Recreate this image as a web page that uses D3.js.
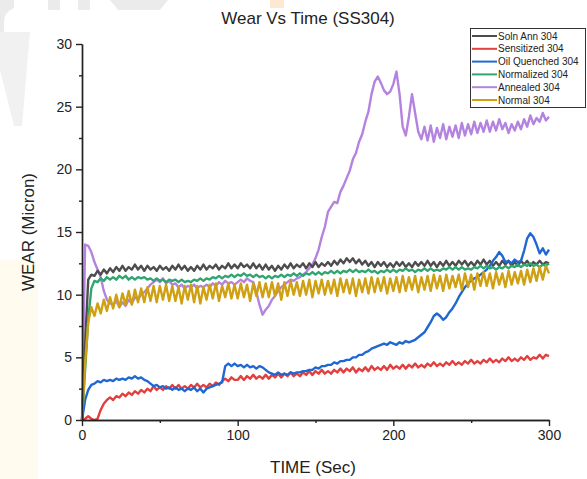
<!DOCTYPE html>
<html>
<head>
<meta charset="utf-8">
<script src="https://cdn.jsdelivr.net/npm/d3@7"></script>
<style>
  body { margin: 0; background: #fff; }
  svg { display: block; font-family: "Liberation Sans", Arial, sans-serif; }
</style>
</head>
<body>
<svg id="chart" width="587" height="479"></svg>
<script>
// Sample times (sec), one reading every 2 s
const time = d3.range(0, 301, 2);

// Wear readings (micron)
const solnAnn = [
  0, 6.0, 11.2, 11.6, 11.5, 11.9, 11.6, 12.0, 11.7, 12.1,
  11.8, 12.2, 11.9, 12.3, 11.9, 12.2, 12.0, 12.4, 12.0, 12.3,
  11.9, 12.3, 12.0, 12.2, 11.9, 12.3, 12.0, 12.2, 11.9, 12.3,
  12.0, 12.4, 12.0, 12.3, 11.9, 12.2, 11.9, 12.3, 12.0, 12.4,
  12.0, 12.3, 12.1, 12.4, 12.0, 12.3, 12.1, 12.5, 12.1, 12.4,
  12.1, 12.5, 12.2, 12.4, 12.1, 12.5, 12.1, 12.4, 12.0, 12.4,
  12.0, 12.3, 11.9, 12.3, 12.0, 12.4, 12.1, 12.5, 12.1, 12.4,
  12.2, 12.5, 12.1, 12.5, 12.2, 12.6, 12.2, 12.5, 12.3, 12.6,
  12.3, 12.7, 12.4, 12.8, 12.5, 12.9, 12.6, 12.9, 12.5, 12.8,
  12.4, 12.7, 12.3, 12.6, 12.2, 12.6, 12.3, 12.6, 12.2, 12.5,
  12.2, 12.6, 12.3, 12.6, 12.2, 12.5, 12.2, 12.6, 12.3, 12.6,
  12.3, 12.7, 12.3, 12.6, 12.2, 12.6, 12.3, 12.7, 12.3, 12.6,
  12.3, 12.7, 12.4, 12.7, 12.3, 12.6, 12.3, 12.7, 12.4, 12.8,
  12.4, 12.7, 12.3, 12.6, 12.3, 12.7, 12.4, 12.7, 12.3, 12.6,
  12.3, 12.7, 12.4, 12.7, 12.3, 12.6, 12.4, 12.7, 12.4, 12.6,
  12.5
];

const sensitized = [
  0, 0.1, 0.3, 0.1, 0.0, 0.1, 0.8, 1.3, 1.6, 1.8,
  1.6, 1.9, 1.8, 2.1, 1.9, 2.2, 2.0, 2.3, 2.1, 2.4,
  2.2, 2.5, 2.3, 2.7, 2.4, 2.6, 2.4, 2.7, 2.5, 2.8,
  2.5, 2.8, 2.5, 2.7, 2.5, 2.8, 2.6, 2.9, 2.6, 2.8,
  2.6, 2.9, 2.7, 3.0, 2.8, 3.1, 3.3, 3.1, 3.4, 3.2,
  3.2, 3.5, 3.2, 3.5, 3.3, 3.6, 3.3, 3.5, 3.3, 3.6,
  3.3, 3.6, 3.4, 3.7, 3.4, 3.7, 3.5, 3.8, 3.5, 3.7,
  3.5, 3.8, 3.6, 3.9, 3.6, 3.9, 3.7, 4.0, 3.7, 3.9,
  3.7, 4.0, 3.8, 4.1, 3.8, 4.1, 3.9, 4.2, 3.8, 4.1,
  3.9, 4.2, 3.9, 4.3, 4.0, 4.2, 4.0, 4.3, 4.0, 4.4,
  4.1, 4.3, 4.1, 4.4, 4.1, 4.4, 4.2, 4.5, 4.2, 4.4,
  4.2, 4.5, 4.3, 4.6, 4.3, 4.5, 4.3, 4.6, 4.4, 4.7,
  4.4, 4.6, 4.4, 4.7, 4.5, 4.8, 4.5, 4.7, 4.5, 4.8,
  4.6, 4.9, 4.6, 4.8, 4.6, 4.9, 4.7, 5.0, 4.7, 4.9,
  4.7, 5.0, 4.8, 5.1, 4.8, 5.0, 4.9, 5.2, 4.9, 5.2,
  5.1
];

const oilQuenched = [
  0, 1.6, 2.4, 2.8, 2.9, 3.1, 3.0, 3.2, 3.1, 3.2,
  3.1, 3.3, 3.2, 3.3, 3.2, 3.4, 3.3, 3.5, 3.3, 3.4,
  3.2, 3.1, 2.9, 2.7, 2.8, 2.6, 2.7, 2.5, 2.6, 2.4,
  2.6, 2.4, 2.5, 2.3, 2.5, 2.4, 2.6, 2.3, 2.5, 2.2,
  2.5, 2.6, 2.7, 2.8, 2.9, 3.0, 4.3, 4.5, 4.3, 4.5,
  4.3, 4.4, 4.2, 4.4, 4.2, 4.3, 4.1, 4.3, 4.2, 4.0,
  3.8, 3.7, 3.6, 3.8, 3.6, 3.7, 3.6, 3.8, 3.7, 3.8,
  3.8, 3.9, 3.9, 4.0, 4.0, 4.2, 4.1, 4.3, 4.3, 4.4,
  4.4, 4.6, 4.5, 4.7, 4.7, 4.8, 4.8, 5.0, 5.0, 5.2,
  5.2, 5.4, 5.5, 5.7, 5.8, 5.9, 6.0, 6.1, 6.0, 6.2,
  6.1, 6.0, 6.2, 6.1, 6.3, 6.2, 6.3, 6.4, 6.6, 6.8,
  7.0, 7.4, 7.8, 8.3, 8.5, 8.3, 8.0, 8.2, 8.6, 8.9,
  9.3, 9.8, 10.2, 10.6, 10.9, 11.1, 11.3, 11.4, 11.6, 11.8,
  12.0, 12.3, 12.7, 13.0, 13.4, 13.1, 12.6, 12.7, 12.5, 12.8,
  12.6, 12.7, 13.5, 14.5, 14.9, 14.6, 14.0, 13.3, 13.7, 13.2,
  13.6
];

const normalized = [
  0, 4.0, 8.0, 10.5, 11.1, 11.0, 11.3, 11.1, 11.4, 11.2,
  11.4, 11.2, 11.5, 11.3, 11.5, 11.2, 11.4, 11.2, 11.4, 11.3,
  11.4, 11.2, 11.3, 11.1, 11.3, 11.1, 11.2, 11.0, 11.2, 11.1,
  11.2, 11.0, 11.2, 11.0, 11.1, 11.0, 11.2, 11.1, 11.3, 11.1,
  11.3, 11.2, 11.4, 11.3, 11.5, 11.3, 11.5, 11.4, 11.6, 11.4,
  11.6, 11.5, 11.7, 11.5, 11.6, 11.4, 11.6, 11.4, 11.5, 11.3,
  11.5, 11.3, 11.5, 11.4, 11.6, 11.4, 11.6, 11.5, 11.7, 11.5,
  11.7, 11.5, 11.7, 11.6, 11.8, 11.6, 11.8, 11.6, 11.8, 11.7,
  11.9, 11.7, 11.9, 11.7, 11.9, 11.8, 12.0, 11.8, 12.0, 11.8,
  11.9, 11.8, 12.0, 11.8, 11.9, 11.7, 11.9, 11.8, 12.0, 11.8,
  12.0, 11.8, 12.0, 11.9, 12.1, 11.9, 12.0, 11.8, 12.0, 11.9,
  12.1, 11.9, 12.1, 11.9, 12.0, 11.9, 12.1, 12.0, 12.2, 12.0,
  12.2, 12.0, 12.2, 12.0, 12.1, 12.0, 12.2, 12.1, 12.3, 12.1,
  12.3, 12.1, 12.2, 12.0, 12.2, 12.1, 12.3, 12.1, 12.3, 12.2,
  12.4, 12.2, 12.4, 12.3, 12.5, 12.3, 12.4, 12.2, 12.4, 12.3,
  12.5
];

const annealed = [
  0, 14.0, 13.9, 13.4, 12.6, 12.0, 11.4, 10.3, 9.6, 9.3,
  9.2, 9.5, 9.0, 9.4, 9.1, 9.6, 9.3, 9.8, 9.6, 10.0,
  10.2, 10.5, 10.8, 11.0, 11.2, 11.0, 11.3, 10.9, 11.1, 10.8,
  10.9, 10.6, 10.8, 10.5, 10.7, 10.6, 10.8, 10.5, 10.7, 10.6,
  10.8, 10.6, 10.9, 10.7, 11.0, 10.8, 11.1, 10.9, 11.0, 10.8,
  11.0, 11.2, 11.0, 11.3, 11.1, 11.0, 10.2, 9.2, 8.4, 8.8,
  9.1, 9.6, 9.9, 10.3, 10.6, 10.8, 11.0, 11.2, 11.1, 11.3,
  11.4, 11.6, 11.8, 12.1, 12.4, 12.9, 13.6, 14.6, 15.4, 16.6,
  17.0, 17.4, 17.3, 18.2, 18.7, 19.3, 19.9, 20.8, 21.3, 22.2,
  22.8, 23.8, 24.6, 26.0, 27.0, 27.4, 26.9, 26.3, 26.0, 26.2,
  26.8, 27.8, 26.0, 23.4, 22.7, 24.2, 26.0, 24.5, 23.0, 22.4,
  23.4, 22.3, 23.5, 22.2, 23.3, 22.5, 23.6, 22.4, 23.4, 22.6,
  23.5, 22.5, 23.7, 22.7, 23.6, 22.8, 23.8, 22.9, 23.7, 23.0,
  23.9, 23.0, 23.8, 23.1, 24.0, 23.2, 23.7, 22.9, 23.6, 23.1,
  23.8, 23.2, 24.0, 23.4, 24.3, 23.6, 24.1, 23.8, 24.5, 23.9,
  24.2
];

const normal = [
  0, 4.5, 7.8, 9.0, 8.3, 9.3, 8.5, 9.6, 8.7, 9.8,
  8.9, 10.0, 9.0, 10.1, 9.2, 10.3, 9.2, 10.4, 9.4, 10.5,
  9.4, 10.6, 9.5, 10.7, 9.4, 10.7, 9.6, 10.8, 9.5, 10.7,
  9.5, 10.6, 9.3, 10.7, 9.6, 10.8, 9.4, 10.7, 9.3, 10.6,
  9.6, 10.8, 9.7, 10.9, 9.5, 10.7, 9.8, 10.9, 9.7, 10.8,
  9.7, 10.9, 9.8, 10.8, 9.5, 10.9, 9.9, 11.0, 9.8, 10.9,
  9.8, 11.0, 9.9, 10.9, 9.6, 11.0, 9.9, 11.1, 10.0, 11.0,
  9.9, 11.1, 10.0, 11.2, 9.8, 11.1, 10.1, 11.2, 10.0, 11.1,
  10.1, 11.2, 9.9, 11.3, 10.2, 11.2, 10.1, 11.3, 9.9, 11.2,
  10.2, 11.3, 10.1, 11.4, 10.2, 11.3, 10.3, 11.4, 10.1, 11.3,
  10.3, 11.4, 10.2, 11.5, 10.3, 11.4, 10.4, 11.5, 10.2, 11.4,
  10.4, 11.5, 10.3, 11.6, 10.5, 11.5, 10.3, 11.6, 10.5, 11.5,
  10.6, 11.6, 10.4, 11.7, 10.6, 11.6, 10.4, 11.7, 10.7, 11.8,
  10.7, 11.7, 10.5, 11.8, 10.8, 11.7, 10.6, 11.9, 10.8, 11.8,
  10.9, 11.9, 10.8, 12.0, 11.0, 12.1, 11.1, 12.2, 11.2, 12.3,
  11.7
];

const seriesNames = ["Soln Ann 304", "Sensitized 304", "Oil Quenched 304", "Normalized 304", "Annealed 304", "Normal 304"];
const seriesValues = [solnAnn, sensitized, oilQuenched, normalized, annealed, normal];
const seriesColors = ["#4d4d4d", "#e2403f", "#1f68d2", "#2fa56f", "#b483df", "#cfa012"];
// drawing order, back to front
const drawOrder = [4, 0, 1, 2, 3, 5];

const xTicks = [0, 100, 200, 300];
const xMinorTicks = [50, 150, 250];
const yTicks = [0, 5, 10, 15, 20, 25, 30];
const yMinorTicks = [2.5, 7.5, 12.5, 17.5, 22.5, 27.5];

const svg = d3.select('#chart');

// faint watermark traces in the background
const wm = svg.append('g').attr('fill', '#ebebeb');
wm.append('path').attr('d', 'M0,0 L14,0 L14,8 Q4,12 4,22 L4,34 L0,34 Z');
wm.append('rect').attr('x', 48).attr('y', 0).attr('width', 12).attr('height', 10);
wm.append('rect').attr('x', 78).attr('y', 0).attr('width', 12).attr('height', 10);
wm.append('path').attr('d', 'M110,0 L168,0 L160,10 L118,10 Z');
wm.append('path').attr('d', 'M0,32 L30,32 L22,126 L14,126 L0,70 Z').attr('fill', '#f1f1f1');
svg.append('rect').attr('x', 270).attr('y', 0).attr('width', 14).attr('height', 8).attr('fill', '#fbe9d2');
svg.append('rect').attr('x', 0).attr('y', 260).attr('width', 38).attr('height', 219).attr('fill', '#fffbef');

const margin = { left: 82, right: 549, top: 44, bottom: 420 };

const x = d3.scaleLinear().domain([0, 300]).range([margin.left, margin.right]);
const y = d3.scaleLinear().domain([0, 30]).range([margin.bottom, margin.top]);

// title
svg.append('text')
    .attr('x', 308).attr('y', 24)
    .attr('text-anchor', 'middle')
    .attr('font-size', 17)
    .attr('fill', '#222')
    .text('Wear Vs Time (SS304)');

// lines
const line = d3.line()
    .x((d, i) => x(time[i]))
    .y(d => y(d));

const plot = svg.append('g');
drawOrder.forEach(k => {
    plot.append('path')
        .datum(seriesValues[k])
        .attr('d', line)
        .attr('fill', 'none')
        .attr('stroke', seriesColors[k])
        .attr('stroke-width', 2.4)
        .attr('stroke-linejoin', 'round');
});

// axes
svg.append('g')
    .attr('transform', `translate(0,${margin.bottom})`)
    .call(d3.axisBottom(x).tickValues(xTicks).tickSize(6).tickPadding(4).tickSizeOuter(0));
svg.append('g')
    .attr('transform', `translate(0,${margin.bottom})`)
    .call(d3.axisBottom(x).tickValues(xMinorTicks).tickSize(3).tickFormat('').tickSizeOuter(0));

svg.append('g')
    .attr('transform', `translate(${margin.left},0)`)
    .call(d3.axisLeft(y).tickValues(yTicks).tickSize(6).tickPadding(4).tickSizeOuter(0));
svg.append('g')
    .attr('transform', `translate(${margin.left},0)`)
    .call(d3.axisLeft(y).tickValues(yMinorTicks).tickSize(3).tickFormat('').tickSizeOuter(0));

svg.selectAll('.domain, .tick line').attr('stroke', '#222').attr('stroke-width', 1.4);
svg.selectAll('.tick text')
    .attr('font-family', '"Liberation Sans", Arial, sans-serif')
    .attr('font-size', 14)
    .attr('fill', '#222');

// axis titles
svg.append('text')
    .attr('x', 313).attr('y', 473)
    .attr('text-anchor', 'middle')
    .attr('font-size', 17)
    .attr('fill', '#222')
    .text('TIME (Sec)');

svg.append('text')
    .attr('transform', 'translate(34,232) rotate(-90)')
    .attr('text-anchor', 'middle')
    .attr('font-size', 17)
    .attr('fill', '#222')
    .text('WEAR (Micron)');

// legend
const legend = svg.append('g');
legend.append('rect')
    .attr('x', 470.5).attr('y', 28.5)
    .attr('width', 115).attr('height', 79)
    .attr('fill', '#fff')
    .attr('stroke', '#333')
    .attr('stroke-width', 1);

seriesNames.forEach((name, i) => {
    const ly = 36 + i * 12.8;
    legend.append('line')
        .attr('x1', 472).attr('x2', 497)
        .attr('y1', ly).attr('y2', ly)
        .attr('stroke', seriesColors[i])
        .attr('stroke-width', 2);
    legend.append('text')
        .attr('x', 498).attr('y', ly + 3.5)
        .attr('font-size', 10)
        .attr('fill', '#222')
        .text(name);
});
</script>
</body>
</html>
